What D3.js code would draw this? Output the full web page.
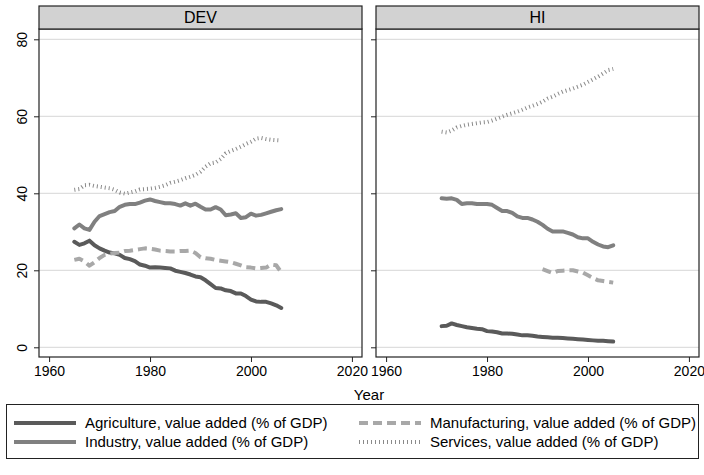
<!DOCTYPE html>
<html lang="en">
<head>
  <meta charset="UTF-8">
  <title>Value added by sector</title>
  <style>
    body { margin: 0; background: #fff; }
    svg text { font-family: "Liberation Sans", Arial, sans-serif; fill: #000; }
  </style>
</head>
<body>
  <div id="svg"></div>
<script src="https://cdn.jsdelivr.net/npm/d3@7/dist/d3.min.js"></script>
<script type="text/javascript">
  // 数据
  const panels = ["DEV", "HI"]
  const xTicks = [1960, 1980, 2000, 2020]
  const yTicks = [0, 20, 40, 60, 80]

  const devYears = d3.range(1965, 2007)
  const devAgri = [27.4, 26.6, 27.0, 27.7, 26.5, 25.7, 25.1, 24.6, 24.4, 24.0, 23.2, 22.9, 22.4, 21.5, 21.2, 20.7, 20.8, 20.7, 20.6, 20.5,
    19.9, 19.6, 19.3, 18.9, 18.4, 18.2, 17.4, 16.4, 15.4, 15.3, 14.8, 14.6, 14.0, 14.0, 13.3, 12.4, 11.9, 11.8, 11.8, 11.4, 10.9, 10.2]
  const devInd = [30.9, 31.9, 30.9, 30.5, 32.6, 34.1, 34.6, 35.1, 35.4, 36.5, 37.0, 37.2, 37.2, 37.6, 38.1, 38.4, 38.0, 37.7, 37.4, 37.4,
    37.2, 36.8, 37.4, 36.8, 37.3, 36.5, 35.8, 35.8, 36.4, 35.8, 34.3, 34.5, 34.8, 33.6, 33.8, 34.7, 34.2, 34.4, 34.8, 35.2, 35.6, 35.9]
  const devManu = [22.7, 23.0, 22.3, 21.2, 22.1, 23.2, 24.0, 24.3, 24.5, 24.6, 25.0, 25.1, 25.3, 25.5, 25.7, 25.6, 25.4, 25.1, 25.0, 24.9,
    24.9, 25.0, 25.0, 25.1, 24.5, 23.4, 23.1, 23.0, 22.7, 22.5, 22.3, 22.1, 21.7, 21.3, 20.8, 20.7, 20.5, 20.6, 20.7, 21.5, 21.3, 19.5]
  const devServ = [40.9, 41.1, 42.1, 42.2, 41.9, 41.7, 41.5, 41.3, 40.9, 40.2, 39.9, 40.2, 40.5, 41.0, 41.1, 41.2, 41.4, 41.7, 42.1, 42.7,
    43.0, 43.4, 43.9, 44.3, 44.8, 45.6, 46.9, 47.8, 48.0, 48.9, 50.4, 51.0, 51.5, 52.1, 52.8, 53.4, 54.2, 54.4, 54.1, 53.9, 53.8, 53.7]

  const hiYears = d3.range(1971, 2006)
  const hiAgri = [5.5, 5.6, 6.2, 5.8, 5.5, 5.2, 5.0, 4.8, 4.7, 4.2, 4.1, 3.9, 3.6, 3.6, 3.5, 3.3, 3.1, 3.1, 3.0, 2.8,
    2.7, 2.6, 2.5, 2.5, 2.4, 2.3, 2.2, 2.1, 2.0, 1.9, 1.8, 1.7, 1.7, 1.6, 1.5]
  const hiInd = [38.7, 38.6, 38.7, 38.3, 37.2, 37.4, 37.4, 37.2, 37.2, 37.2, 37.0, 36.2, 35.4, 35.4, 34.9, 34.0, 33.6, 33.6, 33.2, 32.6,
    31.8, 30.8, 30.1, 30.1, 30.1, 29.7, 29.3, 28.6, 28.3, 28.3, 27.4, 26.7, 26.2, 26.0, 26.5]
  const hiManuYears = d3.range(1991, 2006)
  const hiManu = [20.3, 19.8, 19.3, 19.8, 19.9, 20.0, 20.0, 19.7, 19.4, 18.7, 18.0, 17.4, 17.2, 17.0, 16.8]
  const hiServ = [56.0, 55.8, 56.3, 57.1, 57.5, 57.8, 58.0, 58.2, 58.4, 58.5, 58.9, 59.4, 59.9, 60.4, 60.8, 61.2, 61.7, 62.3, 62.7, 63.2,
    63.8, 64.6, 65.1, 65.8, 66.4, 66.8, 67.2, 67.7, 68.2, 68.9, 69.6, 70.3, 71.1, 72.0, 72.3]

  const seriesNames = [
    "Agriculture, value added (% of GDP)",
    "Industry, value added (% of GDP)",
    "Manufacturing, value added (% of GDP)",
    "Services, value added (% of GDP)"
  ]

  // 线条样式
  const styles = [
    { color: "#5a5a5a", width: 4, dash: null },
    { color: "#808080", width: 4, dash: null },
    { color: "#a8a8a8", width: 4, dash: "9,5" },
    { color: "#8a8a8a", width: 4, dash: "1,3" }
  ]

  const toPts = (years, vals) => years.map((yr, i) => ({ x: yr, y: vals[i] }))
  const panelData = {
    DEV: [toPts(devYears, devAgri), toPts(devYears, devInd), toPts(devYears, devManu), toPts(devYears, devServ)],
    HI: [toPts(hiYears, hiAgri), toPts(hiYears, hiInd), toPts(hiManuYears, hiManu), toPts(hiYears, hiServ)]
  }

  // 画布
  const width = 704
  const height = 475
  const svg = d3.select("#svg").append("svg").attr("width", width).attr("height", height)

  const panelX = [39, 376]
  const panelW = 323
  const headTop = 6, headBot = 29, plotBot = 357

  const yScale = d3.scaleLinear().domain([0, 80]).range([347.3, 39.3])

  panels.forEach((name, p) => {
    const x0 = panelX[p]
    const xScale = d3.scaleLinear().domain([1958, 2022]).range([x0, x0 + panelW])
    const g = svg.append("g")

    // 网格线
    g.selectAll("line.grid").data(yTicks).enter().append("line")
      .attr("class", "grid")
      .attr("x1", x0).attr("x2", x0 + panelW)
      .attr("y1", d => yScale(d)).attr("y2", d => yScale(d))
      .attr("stroke", "#dedede").attr("stroke-width", 1.2)

    // 折线
    const line = d3.line().x(d => xScale(d.x)).y(d => yScale(d.y))
    panelData[name].forEach((pts, i) => {
      const s = styles[i]
      g.append("path").datum(pts)
        .attr("d", line)
        .attr("fill", "none")
        .attr("stroke", s.color)
        .attr("stroke-width", s.width)
        .attr("stroke-linejoin", "round")
        .attr("stroke-linecap", s.dash ? "butt" : "round")
        .attr("stroke-dasharray", s.dash)
    })

    // 外框
    g.append("rect")
      .attr("x", x0).attr("y", headBot)
      .attr("width", panelW).attr("height", plotBot - headBot)
      .attr("fill", "none").attr("stroke", "#222").attr("stroke-width", 1.2)

    // 标题栏
    g.append("rect")
      .attr("x", x0).attr("y", headTop)
      .attr("width", panelW).attr("height", headBot - headTop)
      .attr("fill", "#d2d2d2").attr("stroke", "#222").attr("stroke-width", 1.2)
    g.append("text")
      .attr("x", x0 + panelW / 2).attr("y", 23)
      .attr("text-anchor", "middle")
      .attr("font-size", "16px")
      .text(name)

    // x轴
    const xAxis = g.append("g")
      .attr("transform", `translate(0,${plotBot})`)
      .call(d3.axisBottom(xScale).tickValues(xTicks).tickFormat(d3.format("d")).tickSize(5).tickPadding(4))
    xAxis.select(".domain").remove()
    xAxis.selectAll("line").attr("stroke", "#222")
    xAxis.selectAll("text").attr("font-size", "14px").attr("font-family", "Liberation Sans, Arial, sans-serif")

    // y轴
    const yAxis = g.append("g")
      .attr("transform", `translate(${x0},0)`)
      .call(d3.axisLeft(yScale).tickValues(yTicks).tickSize(5).tickFormat(p === 0 ? d3.format("d") : ""))
    yAxis.select(".domain").remove()
    yAxis.selectAll("line").attr("stroke", "#222")
    yAxis.selectAll("text")
      .attr("font-size", "14px")
      .attr("font-family", "Liberation Sans, Arial, sans-serif")
      .attr("x", null).attr("dy", null)
      .attr("text-anchor", "middle")
      .attr("transform", "translate(-12,0) rotate(-90)")
  })

  // x轴标题
  svg.append("text")
    .attr("x", 369).attr("y", 400)
    .attr("text-anchor", "middle")
    .attr("font-size", "15px")
    .text("Year")

  // 图例
  svg.append("rect")
    .attr("x", 6.5).attr("y", 404.5).attr("width", 692).attr("height", 54)
    .attr("fill", "none").attr("stroke", "#222").attr("stroke-width", 1)

  const legendPos = [
    { x: 14, y: 423 }, { x: 14, y: 442 }, { x: 359, y: 423 }, { x: 359, y: 442 }
  ]
  const legend = svg.selectAll("g.leg").data(seriesNames).enter().append("g")
    .attr("class", "leg")
    .attr("transform", (d, i) => `translate(${legendPos[i].x},${legendPos[i].y})`)
  legend.append("line")
    .attr("x1", 0).attr("x2", 62).attr("y1", 0).attr("y2", 0)
    .attr("stroke", (d, i) => styles[i].color)
    .attr("stroke-width", 4)
    .attr("stroke-dasharray", (d, i) => styles[i].dash)
  legend.append("text")
    .attr("x", 71).attr("y", 5)
    .attr("font-size", "15px")
    .text(d => d)
</script>
</body>
</html>
